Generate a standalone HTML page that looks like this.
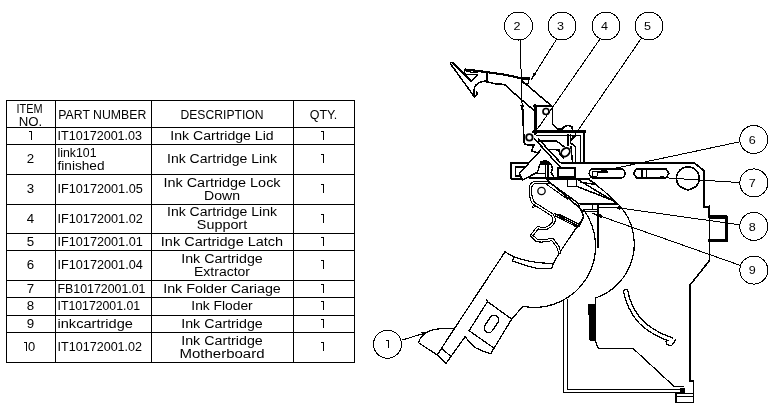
<!DOCTYPE html>
<html><head><meta charset="utf-8"><title>BOM</title>
<style>
html,body{margin:0;padding:0;background:#fff;}
body{width:781px;height:413px;overflow:hidden;font-family:"Liberation Sans",sans-serif;}
svg{display:block;position:absolute;left:0;top:0;will-change:transform;}
text{font-family:"Liberation Sans",sans-serif;fill:#000;}
</style></head><body>
<svg width="781" height="413" viewBox="0 0 781 413">
<rect width="781" height="413" fill="#fff"/>
<path d="M6 100.5H355M6 127.5H355M6 144.5H355M6 174.5H355M6 204.5H355M6 233.5H355M6 250.5H355M6 280.5H355M6 297.5H355M6 315.5H355M6 332.5H355M6 362.5H355M6.5 100V363M55.5 100V363M151.5 100V363M293.5 100V363M354.5 100V363" stroke="#000" stroke-width="1" fill="none" shape-rendering="crispEdges"/>
<text x="29.5" y="113" text-anchor="middle" font-size="12.5" textLength="26" lengthAdjust="spacingAndGlyphs">ITEM</text>
<text x="30.5" y="126" text-anchor="middle" font-size="12.5" textLength="23.5" lengthAdjust="spacingAndGlyphs">NO.</text>
<text x="58.3" y="118.8" text-anchor="start" font-size="12.5" textLength="88" lengthAdjust="spacingAndGlyphs">PART NUMBER</text>
<text x="222" y="118.8" text-anchor="middle" font-size="12.5" textLength="83" lengthAdjust="spacingAndGlyphs">DESCRIPTION</text>
<text x="323.5" y="118.8" text-anchor="middle" font-size="12.5" textLength="27.5" lengthAdjust="spacingAndGlyphs">QTY.</text>
<path d="M29.0 131.5H31.5V140" stroke="#000" stroke-width="1" fill="none" shape-rendering="crispEdges" stroke-linejoin="miter"/>
<path d="M321.0 131.5H323.5V140" stroke="#000" stroke-width="1" fill="none" shape-rendering="crispEdges" stroke-linejoin="miter"/>
<text x="57.5" y="139.7" text-anchor="start" font-size="12.5" textLength="84.6" lengthAdjust="spacingAndGlyphs">IT10172001.03</text>
<text x="222" y="139.7" text-anchor="middle" font-size="12.5" textLength="103.3" lengthAdjust="spacingAndGlyphs">Ink Cartridge Lid</text>
<text x="30.5" y="163.2" text-anchor="middle" font-size="12.5" textLength="7.4" lengthAdjust="spacingAndGlyphs">2</text>
<path d="M321.0 154.5H323.5V163" stroke="#000" stroke-width="1" fill="none" shape-rendering="crispEdges" stroke-linejoin="miter"/>
<text x="57.5" y="156.7" text-anchor="start" font-size="12.5" textLength="39" lengthAdjust="spacingAndGlyphs">link101</text>
<text x="57.5" y="169.7" text-anchor="start" font-size="12.5" textLength="47" lengthAdjust="spacingAndGlyphs">finished</text>
<text x="222" y="163.2" text-anchor="middle" font-size="12.5" textLength="110" lengthAdjust="spacingAndGlyphs">Ink Cartridge Link</text>
<text x="30.5" y="193.2" text-anchor="middle" font-size="12.5" textLength="7.4" lengthAdjust="spacingAndGlyphs">3</text>
<path d="M321.0 184.5H323.5V193" stroke="#000" stroke-width="1" fill="none" shape-rendering="crispEdges" stroke-linejoin="miter"/>
<text x="57.5" y="193.2" text-anchor="start" font-size="12.5" textLength="85.3" lengthAdjust="spacingAndGlyphs">IF10172001.05</text>
<text x="222" y="186.7" text-anchor="middle" font-size="12.5" textLength="117.2" lengthAdjust="spacingAndGlyphs">Ink Cartridge Lock</text>
<text x="222" y="199.7" text-anchor="middle" font-size="12.5" textLength="36" lengthAdjust="spacingAndGlyphs">Down</text>
<text x="30.5" y="222.7" text-anchor="middle" font-size="12.5" textLength="7.4" lengthAdjust="spacingAndGlyphs">4</text>
<path d="M321.0 214.5H323.5V223" stroke="#000" stroke-width="1" fill="none" shape-rendering="crispEdges" stroke-linejoin="miter"/>
<text x="57.5" y="222.7" text-anchor="start" font-size="12.5" textLength="85.3" lengthAdjust="spacingAndGlyphs">IF10172001.02</text>
<text x="222" y="216.2" text-anchor="middle" font-size="12.5" textLength="110" lengthAdjust="spacingAndGlyphs">Ink Cartridge Link</text>
<text x="222" y="229.2" text-anchor="middle" font-size="12.5" textLength="50.3" lengthAdjust="spacingAndGlyphs">Support</text>
<text x="30.5" y="245.7" text-anchor="middle" font-size="12.5" textLength="7.4" lengthAdjust="spacingAndGlyphs">5</text>
<path d="M321.0 237.5H323.5V246" stroke="#000" stroke-width="1" fill="none" shape-rendering="crispEdges" stroke-linejoin="miter"/>
<text x="57.5" y="245.7" text-anchor="start" font-size="12.5" textLength="85.3" lengthAdjust="spacingAndGlyphs">IF10172001.01</text>
<text x="222" y="245.7" text-anchor="middle" font-size="12.5" textLength="122.3" lengthAdjust="spacingAndGlyphs">Ink Cartridge Latch</text>
<text x="30.5" y="269.2" text-anchor="middle" font-size="12.5" textLength="7.4" lengthAdjust="spacingAndGlyphs">6</text>
<path d="M321.0 260.5H323.5V269" stroke="#000" stroke-width="1" fill="none" shape-rendering="crispEdges" stroke-linejoin="miter"/>
<text x="57.5" y="269.2" text-anchor="start" font-size="12.5" textLength="85.3" lengthAdjust="spacingAndGlyphs">IF10172001.04</text>
<text x="222" y="262.7" text-anchor="middle" font-size="12.5" textLength="81.6" lengthAdjust="spacingAndGlyphs">Ink Cartridge</text>
<text x="222" y="275.7" text-anchor="middle" font-size="12.5" textLength="56" lengthAdjust="spacingAndGlyphs">Extractor</text>
<text x="30.5" y="292.7" text-anchor="middle" font-size="12.5" textLength="7.4" lengthAdjust="spacingAndGlyphs">7</text>
<path d="M321.0 284.5H323.5V293" stroke="#000" stroke-width="1" fill="none" shape-rendering="crispEdges" stroke-linejoin="miter"/>
<text x="57.5" y="292.7" text-anchor="start" font-size="12.5" textLength="88" lengthAdjust="spacingAndGlyphs">FB10172001.01</text>
<text x="222" y="292.7" text-anchor="middle" font-size="12.5" textLength="117.6" lengthAdjust="spacingAndGlyphs">Ink Folder Cariage</text>
<text x="30.5" y="310.2" text-anchor="middle" font-size="12.5" textLength="7.4" lengthAdjust="spacingAndGlyphs">8</text>
<path d="M321.0 301.5H323.5V310" stroke="#000" stroke-width="1" fill="none" shape-rendering="crispEdges" stroke-linejoin="miter"/>
<text x="57.5" y="310.2" text-anchor="start" font-size="12.5" textLength="82.6" lengthAdjust="spacingAndGlyphs">IT10172001.01</text>
<text x="222" y="310.2" text-anchor="middle" font-size="12.5" textLength="61.4" lengthAdjust="spacingAndGlyphs">Ink Floder</text>
<text x="30.5" y="327.7" text-anchor="middle" font-size="12.5" textLength="7.4" lengthAdjust="spacingAndGlyphs">9</text>
<path d="M321.0 319.5H323.5V328" stroke="#000" stroke-width="1" fill="none" shape-rendering="crispEdges" stroke-linejoin="miter"/>
<text x="57.5" y="327.7" text-anchor="start" font-size="12.5" textLength="75.4" lengthAdjust="spacingAndGlyphs">inkcartridge</text>
<text x="222" y="327.7" text-anchor="middle" font-size="12.5" textLength="81.6" lengthAdjust="spacingAndGlyphs">Ink Cartridge</text>
<path d="M24.0 342.5H26.5V351" stroke="#000" stroke-width="1" fill="none" shape-rendering="crispEdges" stroke-linejoin="miter"/>
<text x="31.6" y="351.2" text-anchor="middle" font-size="12.5" textLength="7.2" lengthAdjust="spacingAndGlyphs">0</text>
<path d="M321.0 342.5H323.5V351" stroke="#000" stroke-width="1" fill="none" shape-rendering="crispEdges" stroke-linejoin="miter"/>
<text x="57.5" y="351.2" text-anchor="start" font-size="12.5" textLength="84.6" lengthAdjust="spacingAndGlyphs">IT10172001.02</text>
<text x="222" y="344.7" text-anchor="middle" font-size="12.5" textLength="81.6" lengthAdjust="spacingAndGlyphs">Ink Cartridge</text>
<text x="222" y="357.7" text-anchor="middle" font-size="12.5" textLength="85" lengthAdjust="spacingAndGlyphs">Motherboard</text>
<g shape-rendering="crispEdges">
<path d="M583 209 A61.2 61.2 0 0 1 523 306.3" stroke="#000" stroke-width="1.25" fill="none" stroke-linejoin="round" stroke-linecap="round" />
<path d="M588.6 179.3 Q604 190 616.6 202.5 A57.2 57.2 0 0 1 595.6 298 V304" stroke="#000" stroke-width="1.25" fill="none" stroke-linejoin="round" stroke-linecap="round" />
<path d="M523 306.3 L511.7 319.1 L490.8 353.5" stroke="#000" stroke-width="1.25" fill="none" stroke-linejoin="round" stroke-linecap="round" />
<path d="M505.1 251.7 L437.1 354.9 L445.9 363.6 L465.2 336.5 Q470 344 476 348 Q482 351.5 490.8 353.8" stroke="#000" stroke-width="1.25" fill="none" stroke-linejoin="round" stroke-linecap="round" />
<path d="M437.1 354.9 L442 348.5 L450.9 356.6" stroke="#000" stroke-width="1.25" fill="none" stroke-linejoin="round" stroke-linecap="round" />
<path d="M505.1 251.7 Q512 256.5 522 259.5 Q537 263.5 553.5 263.4 L558.9 253.5 L583.9 216.8" stroke="#000" stroke-width="1.25" fill="none" stroke-linejoin="round" stroke-linecap="round" />
<path d="M514 257.3 L512.6 261 Q525 266 539.1 268.8 L551.7 268.8 L553.5 263.4" stroke="#000" stroke-width="1.25" fill="none" stroke-linejoin="round" stroke-linecap="round" />
<path d="M487.5 301.6 L511.7 319.1 M487.5 301.6 L469.1 330.7 L493.3 347.7" stroke="#000" stroke-width="1.25" fill="none" stroke-linejoin="round" stroke-linecap="round" />
<path d="M487.5 301.6 L486.8 299.5" stroke="#000" stroke-width="1.25" fill="none" stroke-linejoin="round" stroke-linecap="round" />
<rect x="-9.4" y="-4.6" width="18.8" height="9.2" rx="4.6" transform="translate(491.4 323.9) rotate(-56)" stroke="#000" stroke-width="1.3" fill="none"/>
<path d="M437.1 354.9 L418.7 342.8 Q420 336 427.4 331.9 Q434 328.9 440 328.8 L453.6 328.8" stroke="#000" stroke-width="1.25" fill="none" stroke-linejoin="round" stroke-linecap="round" />
<path d="M563.9 300.5 V392.5 M567.2 299.5 V389.4" stroke="#000" stroke-width="1.1" fill="none" stroke-linejoin="round" stroke-linecap="round" />
<path d="M563.9 392.5 H683 M567.2 389.6 H683" stroke="#000" stroke-width="1.1" fill="none" stroke-linejoin="round" stroke-linecap="round" />
<path d="M588.6 304.3 H595.2 V340 H590 Z" stroke="#000" stroke-width="1" fill="#000" stroke-linejoin="round" stroke-linecap="round" />
<path d="M595 340 L598.2 348.4 H633 L674 386.4 H683.2" stroke="#000" stroke-width="1.25" fill="none" stroke-linejoin="round" stroke-linecap="round" />
<path d="M709.5 206 V260.5 L689.8 285.3 V381.2 H693.4 V400.7" stroke="#000" stroke-width="1.6" fill="none" stroke-linejoin="round" stroke-linecap="round" />
<path d="M676 393.5 H693.4 V402.7 H676 Z M676 396.8 H693.4" stroke="#000" stroke-width="1.25" fill="none" stroke-linejoin="round" stroke-linecap="round" />
<path d="M680.5 388 H684.5 V392.8 H680.5 Z" stroke="#000" stroke-width="1" fill="#000" stroke-linejoin="round" stroke-linecap="round" />
<path d="M709.6 217 H726.7 V240.3 H709.6" stroke="#000" stroke-width="3.2" fill="none" stroke-linejoin="round" stroke-linecap="round" stroke-linejoin="miter" stroke-linecap="butt"/>
<path d="M625.2 289.3 Q627 299 630.5 306.4 Q634.5 315 640.7 321.7 Q645.5 326.5 650.8 329.8 Q656 333 661 335.6 L672.5 340.3" stroke="#000" stroke-width="5.6" fill="none" stroke-linecap="butt"/>
<path d="M625.5 290.5 Q627 299 630.5 306.4 Q634.5 315 640.7 321.7 Q645.5 326.5 650.8 329.8 Q656 333 661 335.6 L672.5 340.3" stroke="#fff" stroke-width="3.0" fill="none" stroke-linecap="butt"/>
<path d="M666 341 L666.7 344.5 L671.5 345.8 L675.5 340" stroke="#000" stroke-width="1.25" fill="#fff" stroke-linejoin="round" stroke-linecap="round" />
<path d="M529.5 162.8 H511 V178.8 H522" stroke="#000" stroke-width="1.6" fill="none" stroke-linejoin="round" stroke-linecap="round" />
<path d="M527 167.2 H515.4 V176.2 H521" stroke="#000" stroke-width="1.5" fill="none" stroke-linejoin="round" stroke-linecap="round" />
<path d="M561.6 162.8 H694 L703.8 170.5 V207 H708.8 V216" stroke="#000" stroke-width="1.8" fill="none" stroke-linejoin="round" stroke-linecap="round" />
<rect x="589.3" y="168.7" width="35.7" height="9.3" rx="4.6" stroke="#000" stroke-width="1.7" fill="none"/>
<path d="M592 171 H597 V176 H592 Z" stroke="#000" stroke-width="1" fill="none" stroke-linejoin="round" stroke-linecap="round" />
<path d="M599 172 H607" stroke="#000" stroke-width="1.6" fill="none" stroke-linejoin="round" stroke-linecap="round" />
<path d="M636.7 168.7 H665.8 L669 173.3 L665.8 178 H636.7 L633.5 173.3 Z" stroke="#000" stroke-width="1.6" fill="none" stroke-linejoin="round" stroke-linecap="round" />
<path d="M642.2 169.5 V177.5 M646.5 169.5 V177.5" stroke="#000" stroke-width="1.8" fill="none" stroke-linejoin="round" stroke-linecap="round" />
<path d="M680.2 186.7 A11.4 11.4 0 1 1 695.6 186.7 L688 190.3 Z" stroke="#000" stroke-width="1.6" fill="none" stroke-linejoin="round" stroke-linecap="round" />
<path d="M557.8 167.7 H575.2 V176.7 H557.8 Z" stroke="#000" stroke-width="2.2" fill="none" stroke-linejoin="round" stroke-linecap="round" stroke-linejoin="miter"/>
<path d="M547.6 178.7 H588.6" stroke="#000" stroke-width="2.0" fill="none" stroke-linejoin="round" stroke-linecap="round" stroke-linecap="butt"/>
<path d="M567.5 179.9 V186.3 H576.5 V179.9" stroke="#000" stroke-width="1.5" fill="none" stroke-linejoin="round" stroke-linecap="round" />
<path d="M576.5 186.3 L614.3 201 M578.4 179.9 L615.6 202.4 M581 182.5 L596.3 184.4 L588.6 179.3" stroke="#000" stroke-width="1.5" fill="none" stroke-linejoin="round" stroke-linecap="round" />
<path d="M580.2 204 H617.4" stroke="#000" stroke-width="1.7" fill="none" stroke-linejoin="round" stroke-linecap="round" stroke-linecap="butt"/>
<path d="M599 207 H620" stroke="#000" stroke-width="1" fill="none" stroke-linejoin="round" stroke-linecap="round" />
<path d="M583.6 209 H597.6 M584.5 211.5 H597.6 M592 204 V209" stroke="#000" stroke-width="1" fill="none" stroke-linejoin="round" stroke-linecap="round" />
<path d="M598 203.5 V247.4" stroke="#000" stroke-width="1.8" fill="none" stroke-linejoin="round" stroke-linecap="round" stroke-linecap="butt"/>
<path d="M535 105 V133.5" stroke="#000" stroke-width="3.0" fill="none" stroke-linejoin="round" stroke-linecap="round" stroke-linecap="butt"/>
<path d="M533.5 105.8 H551.5" stroke="#000" stroke-width="1.5" fill="none" stroke-linejoin="round" stroke-linecap="round" stroke-linecap="butt"/>
<circle cx="546" cy="111.5" r="3.0" stroke="#000" stroke-width="1.7" fill="none" shape-rendering="geometricPrecision"/>
<path d="M552.6 107.8 V123.9 L557.8 129 L562 129 Q566.5 123.5 571.9 126.8 L572.5 130.3" stroke="#000" stroke-width="1.5" fill="none" stroke-linejoin="round" stroke-linecap="round" />
<path d="M533.5 131.6 H585" stroke="#000" stroke-width="2.8" fill="none" stroke-linejoin="round" stroke-linecap="round" stroke-linecap="butt"/>
<path d="M584 131 V162.5" stroke="#000" stroke-width="2.0" fill="none" stroke-linejoin="round" stroke-linecap="round" stroke-linecap="butt"/>
<path d="M537 135.2 H580.8 V162.5" stroke="#000" stroke-width="1.2" fill="none" stroke-linejoin="round" stroke-linecap="round" />
<circle cx="529.4" cy="137.4" r="3.2" stroke="#000" stroke-width="1.8" fill="none" shape-rendering="geometricPrecision"/>
<path d="M523 110 L523.8 141 Q524.2 144.8 528.2 144.8 L534 144.8" stroke="#000" stroke-width="1.8" fill="none" stroke-linejoin="round" stroke-linecap="round" />
<path d="M534.7 139 L560.3 167.2 M538.5 139 L560.3 162.5" stroke="#000" stroke-width="1.5" fill="none" stroke-linejoin="round" stroke-linecap="round" />
<ellipse cx="565.5" cy="152.3" rx="4.8" ry="3.7" transform="rotate(-45 565.5 152.3)" stroke="#000" stroke-width="1.9" fill="none" shape-rendering="geometricPrecision"/>
<path d="M538.5 141 H556.5 L564 146.7 M550 149.3 L559 150 Q559.5 156 563.5 157.8" stroke="#000" stroke-width="1.5" fill="none" stroke-linejoin="round" stroke-linecap="round" />
<path d="M568 134.6 V145.4 M570.6 134.6 V143 L575.7 146.7 V162 M571 146.7 L572.5 162" stroke="#000" stroke-width="1.5" fill="none" stroke-linejoin="round" stroke-linecap="round" />
<path d="M540.8 150 L519.3 173.6 L522.5 180 L537.4 172.3 L539.6 165.5 Q540.8 161.6 544 160.9 Q548.6 160.4 551 164.5 Q553.6 168.5 551 172.3 L553.9 177.1" stroke="#000" stroke-width="1.5" fill="#fff" stroke-linejoin="round" stroke-linecap="round" />
<path d="M540 162.2 Q544.5 159.5 549.5 162.3 L549.5 164.5 H540 Z" stroke="#000" stroke-width="1" fill="#000" stroke-linejoin="round" stroke-linecap="round" />
<path d="M548 164.5 V177.5" stroke="#000" stroke-width="2.0" fill="none" stroke-linejoin="round" stroke-linecap="round" stroke-linecap="butt"/>
<path d="M545.4 165 V177.5 M534.8 173.2 H546" stroke="#000" stroke-width="1.1" fill="none" stroke-linejoin="round" stroke-linecap="round" />
<path d="M529.7 178.3 H557.8" stroke="#000" stroke-width="1.8" fill="none" stroke-linejoin="round" stroke-linecap="round" stroke-linecap="butt"/>
<path d="M534 144.8 L531.5 151 L537 152.5" stroke="#000" stroke-width="1.5" fill="none" stroke-linejoin="round" stroke-linecap="round" />
<path d="M450.4 63.7 L474.4 96.9 M450.4 63.7 Q450.8 61.8 452.4 62.4 L471.1 81.1 L477.7 74.6" stroke="#000" stroke-width="1.5" fill="none" stroke-linejoin="round" stroke-linecap="round" />
<path d="M465.2 69.5 L481.5 71.4 L505 74.7 L521.7 78.4 H529.3" stroke="#000" stroke-width="2.2" fill="none" stroke-linejoin="round" stroke-linecap="round" />
<path d="M465.2 69.5 Q463.8 72 465.6 74.2 L477.7 74.4 M466.5 71.5 L477.7 72.8" stroke="#000" stroke-width="1.1" fill="none" stroke-linejoin="round" stroke-linecap="round" />
<path d="M474.4 96.9 Q472.8 91 475.5 85.5 Q479 81.5 486.5 80.9 M474.4 96.9 L477.7 93.9 L476.2 92" stroke="#000" stroke-width="1.5" fill="none" stroke-linejoin="round" stroke-linecap="round" />
<path d="M487 73.3 V81.9" stroke="#000" stroke-width="2.2" fill="none" stroke-linejoin="round" stroke-linecap="round" stroke-linecap="butt"/>
<path d="M487 81.7 L495 83.8 L504.3 84.4 L521.2 99.5 L533.5 110" stroke="#000" stroke-width="1.5" fill="none" stroke-linejoin="round" stroke-linecap="round" />
<path d="M522.3 78.6 H529.3 L528.3 83.3 H523.3 Z" stroke="#000" stroke-width="1.2" fill="none" stroke-linejoin="round" stroke-linecap="round" />
<path d="M524 82.5 L552 106.3" stroke="#000" stroke-width="1.5" fill="none" stroke-linejoin="round" stroke-linecap="round" />
<path d="M548.5 182.2 H535.5 Q530 183.5 530.2 190 Q530.5 198 533.4 203 L551.8 214.6 Q556.8 220 551.4 225 Q546.5 229.5 541.8 228.6 L537.8 227.6 L531.6 235.6 L536.8 240.6 Q545 241.6 552.2 239.2 L558 247 L559.6 252.5" stroke="#000" stroke-width="3.4" fill="none" stroke-linejoin="round" stroke-linecap="round" />
<path d="M548.5 182.2 H535.5 Q530 183.5 530.2 190 Q530.5 198 533.4 203 L551.8 214.6 Q556.8 220 551.4 225 Q546.5 229.5 541.8 228.6 L537.8 227.6 L531.6 235.6 L536.8 240.6 Q545 241.6 552.2 239.2 L558 247 L559.6 252.5" stroke="#fff" stroke-width="1.3" fill="none" stroke-linejoin="round" stroke-linecap="butt"/>
<path d="M548 181.6 L577.5 202.6 L583.7 216.5 L579 226.6 L554.3 213.4" stroke="#000" stroke-width="1.5" fill="none" stroke-linejoin="round" stroke-linecap="round" />
<path d="M546 184 L568 199.5" stroke="#000" stroke-width="1" fill="none" stroke-linejoin="round" stroke-linecap="round" />
<path d="M533.5 204.5 L532.5 207.5 L536 206" stroke="#000" stroke-width="1" fill="none" stroke-linejoin="round" stroke-linecap="round" />
<circle cx="541.5" cy="191" r="3.7" stroke="#000" stroke-width="1.3" fill="none" shape-rendering="geometricPrecision"/>
<path d="M555.3 215.9 L577.7 227.5 M558.9 214.2 L580.4 224.9" stroke="#000" stroke-width="1.2" fill="none" stroke-linejoin="round" stroke-linecap="round" />
<path d="M545 178 L583.5 211.4" stroke="#000" stroke-width="1.5" fill="none" stroke-linejoin="round" stroke-linecap="round" />
<path d="M401.9 340.1L429.4 331.7" stroke="#000" stroke-width="1.0" fill="none"/>
<path d="M429.4 331.7L421.2 332.1L422.3 335.9Z" fill="#000"/>
<path d="M520.2 40L522.3 113" stroke="#000" stroke-width="1.0" fill="none"/>
<path d="M522.3 113.0L523.9 105.0L520.3 105.1Z" fill="#000"/>
<path d="M557 38.5L531 80" stroke="#000" stroke-width="1.0" fill="none"/>
<path d="M531.0 80.0L536.8 74.2L533.7 72.3Z" fill="#000"/>
<path d="M600 39L537.5 129" stroke="#000" stroke-width="1.0" fill="none"/>
<path d="M537.5 129.0L540.0 127.0L538.5 126.0Z" fill="#000"/>
<path d="M641.5 38L570 142" stroke="#000" stroke-width="1.0" fill="none"/>
<path d="M570.0 142.0L576.0 136.4L573.0 134.4Z" fill="#000"/>
<path d="M739.8 141.8L598.6 171.8" stroke="#000" stroke-width="1.0" fill="none"/>
<path d="M598.6 171.8L606.8 171.9L606.1 168.4Z" fill="#000"/>
<path d="M739.8 182.6L656 177.2" stroke="#000" stroke-width="1.0" fill="none"/>
<path d="M656.0 177.2L663.9 179.5L664.1 175.9Z" fill="#000"/>
<path d="M739.8 224.8L612.6 207" stroke="#000" stroke-width="1.0" fill="none"/>
<path d="M612.6 207.0L620.3 209.9L620.8 206.3Z" fill="#000"/>
<path d="M739.8 265.2L592.5 213.3" stroke="#000" stroke-width="1.0" fill="none"/>
<path d="M592.5 213.3L601.3 218.5L602.6 214.7Z" fill="#000"/>
<circle cx="387.5" cy="344.2" r="14" stroke="#000" stroke-width="1" fill="#fff"/>
<path d="M385.5 340.5H388.5V348" stroke="#000" stroke-width="1" fill="none" stroke-linejoin="miter"/>
<circle cx="518.5" cy="26" r="14" stroke="#000" stroke-width="1" fill="#fff"/>
<text x="517.0" y="30.3" text-anchor="middle" font-size="11" textLength="7" lengthAdjust="spacingAndGlyphs">2</text>
<circle cx="562" cy="26" r="14" stroke="#000" stroke-width="1" fill="#fff"/>
<text x="560.5" y="30.3" text-anchor="middle" font-size="11" textLength="7" lengthAdjust="spacingAndGlyphs">3</text>
<circle cx="606" cy="26" r="14" stroke="#000" stroke-width="1" fill="#fff"/>
<text x="604.5" y="30.3" text-anchor="middle" font-size="11" textLength="7" lengthAdjust="spacingAndGlyphs">4</text>
<circle cx="649" cy="26" r="14" stroke="#000" stroke-width="1" fill="#fff"/>
<text x="647.5" y="30.3" text-anchor="middle" font-size="11" textLength="7" lengthAdjust="spacingAndGlyphs">5</text>
<circle cx="753.8" cy="139.5" r="14" stroke="#000" stroke-width="1" fill="#fff"/>
<text x="752.3" y="143.8" text-anchor="middle" font-size="11" textLength="7" lengthAdjust="spacingAndGlyphs">6</text>
<circle cx="753.8" cy="182.9" r="14" stroke="#000" stroke-width="1" fill="#fff"/>
<text x="752.3" y="187.20000000000002" text-anchor="middle" font-size="11" textLength="7" lengthAdjust="spacingAndGlyphs">7</text>
<circle cx="753.8" cy="226.4" r="14" stroke="#000" stroke-width="1" fill="#fff"/>
<text x="752.3" y="230.70000000000002" text-anchor="middle" font-size="11" textLength="7" lengthAdjust="spacingAndGlyphs">8</text>
<circle cx="753.8" cy="270.1" r="14" stroke="#000" stroke-width="1" fill="#fff"/>
<text x="752.3" y="274.40000000000003" text-anchor="middle" font-size="11" textLength="7" lengthAdjust="spacingAndGlyphs">9</text>
</g>
</svg>
</body></html>
